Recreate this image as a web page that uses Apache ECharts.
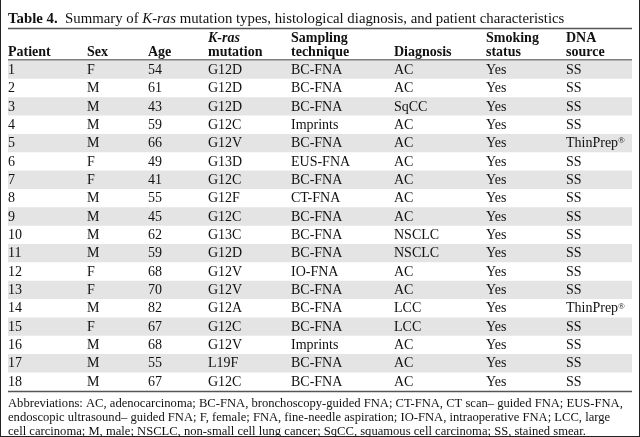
<!DOCTYPE html>
<html><head><meta charset="utf-8">
<script src="https://cdn.jsdelivr.net/npm/echarts@6/dist/echarts.min.js"></script>
<style>html,body{margin:0;padding:0;background:#fff}#c{width:640px;height:437px}</style>
</head><body><div id="c"></div>
<script>
// ---- data ----
const patients = ['1','2','3','4','5','6','7','8','9','10','11','12','13','14','15','16','17','18'];
const sex = ['F','M','M','M','M','F','F','M','M','M','M','F','F','M','F','M','M','M'];
const age = [54,61,43,59,66,49,41,55,45,62,59,68,70,82,67,68,55,67];
const mutation = ['G12D','G12D','G12D','G12C','G12V','G13D','G12C','G12F','G12C','G13C','G12D','G12V','G12V','G12A','G12C','G12V','L19F','G12C'];
const sampling = ['BC-FNA','BC-FNA','BC-FNA','Imprints','BC-FNA','EUS-FNA','BC-FNA','CT-FNA','BC-FNA','BC-FNA','BC-FNA','IO-FNA','BC-FNA','BC-FNA','BC-FNA','Imprints','BC-FNA','BC-FNA'];
const diagnosis = ['AC','AC','SqCC','AC','AC','AC','AC','AC','AC','NSCLC','NSCLC','AC','AC','LCC','LCC','AC','AC','AC'];
const smoking = ['Yes','Yes','Yes','Yes','Yes','Yes','Yes','Yes','Yes','Yes','Yes','Yes','Yes','Yes','Yes','Yes','Yes','Yes'];
const dnaSource = ['SS','SS','SS','SS','ThinPrep®','SS','SS','SS','SS','SS','SS','SS','SS','ThinPrep®','SS','SS','SS','SS'];
const headerLine1 = ['', '', '', 'K-ras', 'Sampling', '', 'Smoking', 'DNA'];
const headerLine2 = ['Patient', 'Sex', 'Age', 'mutation', 'technique', 'Diagnosis', 'status', 'source'];
const titleBold = 'Table 4.';
const titleText = ['Summary of ', 'K-ras', ' mutation types, histological diagnosis, and patient characteristics'];
const footnote = [
  'Abbreviations: AC, adenocarcinoma; BC-FNA, bronchoscopy-guided FNA; CT-FNA, CT scan\u2013 guided FNA; EUS-FNA,',
  'endoscopic ultrasound\u2013 guided FNA; F, female; FNA, fine-needle aspiration; IO-FNA, intraoperative FNA; LCC, large',
  'cell carcinoma; M, male; NSCLC, non-small cell lung cancer; SqCC, squamous cell carcinoma; SS, stained smear.'
];
const columns = [patients, sex, age, mutation, sampling, diagnosis, smoking, dnaSource];

// ---- layout (not data) ----
const colX = [0, 79, 140, 200, 283, 386, 478, 558];
const FONT = '"Liberation Serif", "Times New Roman", serif';
const FS = 14;
const TFS = 14.8;
const stripe = '#e4e4e4';
const ruleColor = '#555';

const chart = echarts.init(document.getElementById('c'), null, {renderer: 'canvas'});

function fmtCell(v) {
  return String(v).replace('®', '{sup|®}');
}

const rowData = patients.map((p, i) => [0, i]);

const option = {
  animation: false,
  backgroundColor: '#fff',
  grid: {left: 8, right: 8, top: 59.5, height: 18.35 * patients.length},
  xAxis: {type: 'value', min: 0, max: 624, show: false},
  yAxis: {type: 'category', data: patients, inverse: true, show: false},
  series: [{
    type: 'custom',
    coordinateSystem: 'cartesian2d',
    encode: {x: 0, y: 1},
    data: rowData,
    renderItem: function (params, api) {
      const idx = api.value(1);
      const cs = params.coordSys;
      const c = api.coord([0, idx]);
      const band = api.size([0, 1])[1];
      const children = [];
      if (idx % 2 === 0) {
        children.push({type: 'rect', shape: {x: cs.x, y: c[1] - band / 2 + 1, width: cs.width, height: band}, style: {fill: stripe}});
      }
      for (let k = 0; k < columns.length; k++) {
        const x = api.coord([colX[k], idx])[0];
        children.push({
          type: 'text',
          x: x, y: c[1] + 1.5,
          style: {
            text: fmtCell(columns[k][idx]),
            font: FS + 'px ' + FONT,
            fill: '#111',
            verticalAlign: 'middle',
            rich: {sup: {fontSize: 9, fontFamily: FONT, verticalAlign: 'top', padding: [0, 0, 5, 0]}}
          }
        });
      }
      if (idx === 0) {
        for (let k = 0; k < columns.length; k++) {
          const x = api.coord([colX[k], idx])[0];
          if (headerLine1[k]) {
            children.push({type: 'text', x: x, y: cs.y - 21,
              style: {text: headerLine1[k], font: (k === 3 ? 'italic ' : '') + 'bold ' + FS + 'px ' + FONT, fill: '#111', verticalAlign: 'middle'}});
          }
          children.push({type: 'text', x: x, y: cs.y - 7.5,
            style: {text: headerLine2[k], font: 'bold ' + FS + 'px ' + FONT, fill: '#111', verticalAlign: 'middle'}});
        }
      }
      return {type: 'group', children: children};
    }
  }],
  graphic: [
    {type: 'text', left: 8, top: 11.5, style: {
      text: '{b|' + titleBold + '}  ' + titleText[0] + '{i|' + titleText[1] + '}' + titleText[2],
      font: TFS + 'px ' + FONT, fill: '#111',
      rich: {b: {fontWeight: 'bold', fontSize: TFS, fontFamily: FONT}, i: {fontStyle: 'italic', fontSize: TFS, fontFamily: FONT}}
    }},
    {type: 'line', shape: {x1: 8, y1: 28.5, x2: 632, y2: 28.5}, style: {stroke: ruleColor, lineWidth: 1.5}},
    {type: 'line', shape: {x1: 8, y1: 60, x2: 632, y2: 60}, style: {stroke: ruleColor, lineWidth: 1.5}},
    {type: 'line', shape: {x1: 8, y1: 391.5, x2: 632, y2: 391.5}, style: {stroke: ruleColor, lineWidth: 1.5}},
    {type: 'text', left: 8, top: 397, style: {text: footnote.join('\n'), font: '12.6px ' + FONT, fill: '#111', lineHeight: 14}},
    {type: 'line', shape: {x1: 0.5, y1: 0, x2: 0.5, y2: 437}, style: {stroke: '#222', lineWidth: 1}},
    {type: 'line', shape: {x1: 639.5, y1: 0, x2: 639.5, y2: 437}, style: {stroke: '#222', lineWidth: 1}},
    {type: 'line', shape: {x1: 0, y1: 436.5, x2: 640, y2: 436.5}, style: {stroke: '#222', lineWidth: 1}}
  ]
};
chart.setOption(option);
</script>
</body></html>
